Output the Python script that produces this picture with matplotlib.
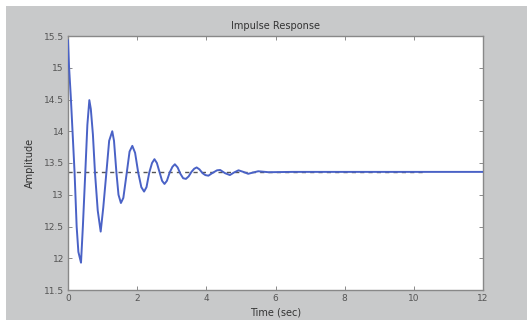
import matplotlib
matplotlib.use("Agg")
import matplotlib.pyplot as plt
from matplotlib.patches import Rectangle

# Response curve
time_s = [0.0, 0.03, 0.08, 0.14, 0.19, 0.25, 0.30, 0.376, 0.43, 0.50, 0.56, 0.617, 0.66, 0.72, 0.78,
          0.86, 0.945, 1.02, 1.11, 1.19, 1.28, 1.33, 1.40, 1.46, 1.53, 1.60, 1.70, 1.78, 1.86,
          1.94, 2.03, 2.12, 2.20, 2.27, 2.35, 2.43, 2.50, 2.57, 2.65, 2.72, 2.79, 2.86, 2.94,
          3.02, 3.09, 3.17, 3.25, 3.33, 3.41, 3.49, 3.57, 3.65, 3.72, 3.80, 3.89, 3.97, 4.06,
          4.14, 4.23, 4.31, 4.40, 4.54, 4.68, 4.80, 4.93, 5.07, 5.21, 5.35, 5.50, 5.80, 6.5, 12.0]
amplitude = [15.43, 15.02, 14.55, 13.90, 13.35, 12.50, 12.10, 11.93, 12.50, 13.35, 14.10, 14.49, 14.35, 13.95, 13.35,
             12.75, 12.42, 12.80, 13.35, 13.85, 14.00, 13.85, 13.35, 13.00, 12.87, 12.95, 13.35, 13.68, 13.77,
             13.66, 13.35, 13.12, 13.05, 13.12, 13.35, 13.50, 13.56, 13.50, 13.35, 13.22, 13.17, 13.22, 13.35,
             13.44, 13.48, 13.43, 13.33, 13.26, 13.25, 13.29, 13.36, 13.41, 13.43, 13.40, 13.34, 13.31, 13.30,
             13.33, 13.36, 13.385, 13.39, 13.34, 13.31, 13.35, 13.385, 13.36, 13.33, 13.35, 13.37, 13.355, 13.36, 13.36]

steady_value = 13.355
steady_end = 10.3

x_ticks = [0, 2, 4, 6, 8, 10, 12]
y_ticks = [11.5, 12, 12.5, 13, 13.5, 14, 14.5, 15, 15.5]
y_tick_labels = ["11.5", "12", "12.5", "13", "13.5", "14", "14.5", "15", "15.5"]

W, H = 527, 320
fig = plt.figure(figsize=(W / 100, H / 100), dpi=100, facecolor="white")
fig.patches.append(Rectangle((6 / W, 0), 1 - 6 / W, 1 - 6 / H, transform=fig.transFigure,
                             facecolor="#c8c9ca", edgecolor="none", zorder=-10))

ax = fig.add_axes([68 / W, 30 / H, (483 - 68) / W, (290 - 36) / H])
ax.set_facecolor("white")

ax.plot([0, steady_end], [steady_value, steady_value], linestyle=(0, (3, 3)), color="#555555", lw=1.0, zorder=2)
ax.plot(time_s, amplitude, color="#4a62c6", lw=1.4, zorder=3)

ax.set_xlim(0, 12)
ax.set_ylim(11.5, 15.5)
ax.set_xticks(x_ticks)
ax.set_yticks(y_ticks)
ax.set_xticklabels([str(v) for v in x_ticks])
ax.set_yticklabels(y_tick_labels)
ax.tick_params(direction="in", top=True, right=True, length=3, width=0.6, colors="#777777",
               labelcolor="#555555", labelsize=6.5, pad=3)
for s in ax.spines.values():
    s.set_color("#888888")
    s.set_linewidth(1.0)

ax.set_title("Impulse Response", fontsize=7, color="#333333", pad=5)
ax.set_xlabel("Time (sec)", fontsize=7, color="#333333", labelpad=3)
ax.set_ylabel("Amplitude", fontsize=7, color="#333333", labelpad=6)

fig.savefig("out.png", dpi=100, facecolor=fig.get_facecolor())
